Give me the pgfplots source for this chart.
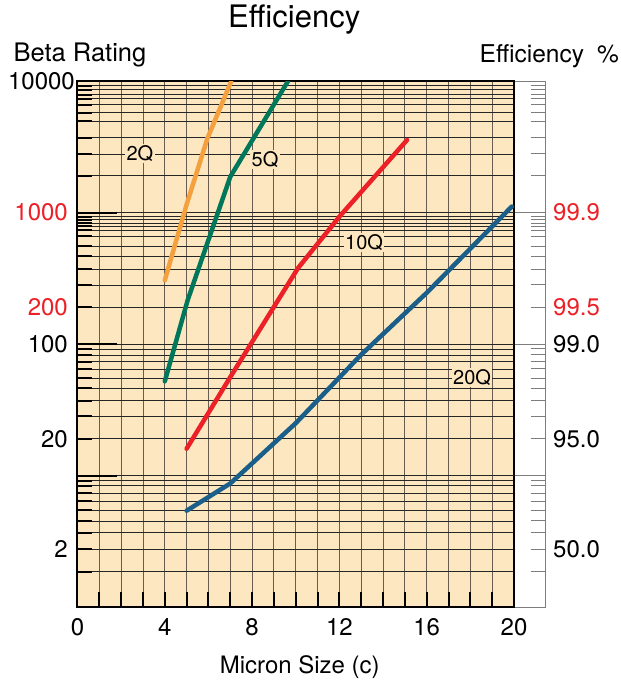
\documentclass[border=0pt]{standalone}
\usepackage{pgfplots}
\pgfplotsset{compat=1.18}
\usepackage{fontspec}
\setmainfont{TeX Gyre Heros}
\definecolor{bgbeige}{RGB}{253,231,192}
\definecolor{corange}{RGB}{244,160,62}
\definecolor{cgreen}{RGB}{0,119,90}
\definecolor{cred}{RGB}{236,32,39}
\definecolor{cblue}{RGB}{26,94,138}
\definecolor{vgrid}{RGB}{105,92,80}
\definecolor{stripgray}{RGB}{125,125,125}
\pgfplotsset{
  betagrid/.style={
    minor ytick={1.86,3.68,4.51,5.46,6.36,7.32,8.38,9.15,
                 28.1,37.1,46.1,54.9,64.6,73.4,82.5,91.7,
                 281,369,465,553,658,731,784,831,881,932,
                 1904,2787,3690,4938,5721,6621,7317,7892,8615,9240}
  }
}
\begin{document}
\begin{tikzpicture}[font=\fontsize{24}{28}\selectfont]
\path[use as bounding box] (-77.5pt,-76pt) rectangle (543.5pt,607pt);

% right efficiency strip
\begin{axis}[
  at={(436.5pt,0pt)}, anchor=south west, scale only axis,
  width=31pt, height=526pt,
  xmin=0, xmax=1, ymode=log, ymin=1, ymax=10000,
  xtick=\empty,
  axis line style={stripgray, line width=1pt},
  ytick pos=right, yticklabel pos=right, tick align=inside,
  betagrid,
  ytick={2.74,19,191},
  yticklabels={{50.0},{95.0},{\textcolor{cred}{99.5}}},
  extra y ticks={10,100,1000},
  extra y tick labels={{},{99.0},{\textcolor{cred}{99.9}}},
  extra y tick style={major tick length=31pt},
  major tick length=14pt, minor tick length=14pt,
  tick style={stripgray, line width=1pt},
  yticklabel style={anchor=west, inner sep=0pt, xshift=8pt, font=\fontsize{24}{28}\selectfont},
  /pgf/number format/assume math mode=true,
]
\end{axis}

% main chart
\begin{axis}[
  at={(0pt,0pt)}, anchor=south west, scale only axis,
  width=436.5pt, height=526pt,
  xmin=0, xmax=20, ymode=log, ymin=1, ymax=10000,
  axis background/.style={fill=bgbeige},
  axis line style={black, line width=2pt},
  tick align=inside, xtick pos=left, ytick pos=left,
  xtick={0,4,...,20},
  minor xtick={1,2,3,5,6,7,9,10,11,13,14,15,17,18,19},
  xmajorgrids, xminorgrids, ymajorgrids, yminorgrids,
  x grid style={vgrid, line width=0.9pt},
  y grid style={black!85, line width=0.9pt},
  betagrid,
  ytick={2.74,19,191,10000},
  yticklabels={{2},{20},{\textcolor{cred}{200}},{10000\hspace*{-7pt}}},
  extra y ticks={10,100,1000},
  extra y tick labels={{},{100},{\textcolor{cred}{1000}}},
  extra y tick style={major tick length=39pt, grid=major},
  major tick length=15pt, minor tick length=15pt,
  tick style={black, line width=2pt},
  xticklabel style={anchor=north, inner sep=0pt, yshift=-11pt},
  yticklabel style={anchor=east, inner sep=0pt, xshift=-9.5pt},
  tick label style={font=\fontsize{24}{28}\selectfont},
  /pgf/number format/assume math mode=true,
  every axis title shift=0pt,
  title={Efficiency},
  title style={at={(axis description cs:0.5,1)}, anchor=base, yshift=54pt, xshift=-1.5pt, inner sep=0pt, font=\fontsize{31}{36}\selectfont},
  xlabel={Micron Size (c)},
  xlabel style={at={(axis description cs:0.5,0)}, anchor=base, yshift=-66pt, xshift=4pt, inner sep=0pt, font=\fontsize{24}{28}\selectfont},
  ylabel={Beta Rating},
  every axis y label/.style={at={(axis description cs:0,1)}, anchor=base west, xshift=-64pt, yshift=20pt, inner sep=0pt, font=\fontsize{25.5}{30}\selectfont},
]
\addplot[corange, line width=4.5pt, line cap=round, line join=round]
  coordinates {(4,305) (5,1150) (5.95,3650) (7.05,10000)};
\addplot[cgreen, line width=4.5pt, line cap=round, line join=round]
  coordinates {(4,52) (5.05,216) (7,1870) (9.65,10000)};
\addplot[cred, line width=4.5pt, line cap=round, line join=round]
  coordinates {(5,16) (7,56) (10.1,377) (12,930) (15.1,3560)};
\addplot[cblue, line width=4.5pt, line cap=round, line join=round]
  coordinates {(5,5.4) (7,8.7) (10,25) (13,83) (16,245) (19.9,1110)};

\node[fill=bgbeige, inner sep=1.5pt, font=\fontsize{20}{24}\selectfont] at (axis cs:2.86,2800) {2Q};
\node[fill=bgbeige, inner sep=1.5pt, font=\fontsize{20}{24}\selectfont] at (axis cs:8.59,2520) {5Q};
\node[fill=bgbeige, inner sep=1.5pt, font=\fontsize{20}{24}\selectfont] at (axis cs:13.13,590) {10Q};
\node[fill=bgbeige, inner sep=1.5pt, font=\fontsize{20}{24}\selectfont] at (axis cs:18.08,56) {20Q};
\end{axis}

\node[anchor=base east, inner sep=0pt, font=\fontsize{24.5}{29}\selectfont] at (541.5pt,544.7pt) {Efficiency\hspace{13pt}\%};
\end{tikzpicture}
\end{document}
